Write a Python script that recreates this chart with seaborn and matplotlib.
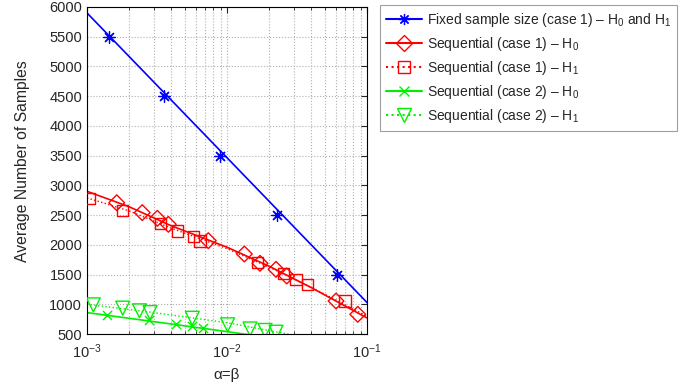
import numpy as np
import pandas as pd
import matplotlib
matplotlib.use("Agg")
import matplotlib.pyplot as plt
from matplotlib.lines import Line2D
import seaborn as sns

# ---- data ----
fixed_line_x = [1e-3, 1e-1]
fixed_line_y = [5900, 1030]
fixed_pts_x = [1.44e-3, 3.55e-3, 8.9e-3, 0.0228, 0.061]
fixed_pts_y = [5500, 4500, 3500, 2500, 1500]

seq1_h0_line_x = [1e-3, 2e-3, 4e-3, 1e-2, 2e-2, 4e-2, 1e-1]
seq1_h0_line_y = [2900, 2640, 2320, 1960, 1640, 1280, 770]
seq1_h0_pts_x = [1.63e-3, 2.48e-3, 3.18e-3, 3.81e-3, 7.35e-3, 0.0133, 0.0172, 0.0224, 0.0267, 0.0601, 0.0859]
seq1_h0_pts_y = [2708, 2541, 2446, 2345, 2070, 1846, 1689, 1588, 1476, 1055, 831]

seq1_h1_line_x = [1e-3, 2e-3, 4e-3, 1e-2, 2e-2, 4e-2, 1e-1]
seq1_h1_line_y = [2790, 2570, 2280, 1935, 1625, 1285, 800]
seq1_h1_pts_x = [1.04e-3, 1.8e-3, 3.36e-3, 4.42e-3, 5.74e-3, 6.41e-3, 0.0166, 0.0255, 0.0311, 0.0375, 0.0697]
seq1_h1_pts_y = [2782, 2574, 2362, 2232, 2137, 2064, 1699, 1521, 1420, 1336, 1055]

seq2_h0_line_x = [1e-3, 3e-3, 1e-2, 2e-2]
seq2_h0_line_y = [860, 708, 540, 440]
seq2_h0_pts_x = [1.38e-3, 2.79e-3, 4.31e-3, 5.6e-3, 6.7e-3]
seq2_h0_pts_y = [820, 735, 668, 635, 607]

seq2_h1_line_x = [1e-3, 3e-3, 1e-2, 3e-2]
seq2_h1_line_y = [1000, 860, 690, 480]
seq2_h1_pts_x = [1.11e-3, 1.8e-3, 2.37e-3, 2.82e-3, 5.65e-3, 0.0101, 0.0146, 0.0187, 0.0224]
seq2_h1_pts_y = [990, 935, 890, 860, 765, 655, 585, 560, 530]

labels = [
    "Fixed sample size (case 1) – $\\mathregular{H_0}$ and $\\mathregular{H_1}$",
    "Sequential (case 1) – $\\mathregular{H_0}$",
    "Sequential (case 1) – $\\mathregular{H_1}$",
    "Sequential (case 2) – $\\mathregular{H_0}$",
    "Sequential (case 2) – $\\mathregular{H_1}$",
]

sns.set_style("white")
plt.rcParams['font.family'] = ['Liberation Sans', 'DejaVu Sans']
plt.rcParams['mathtext.fontset'] = 'custom'
plt.rcParams['mathtext.rm'] = 'Liberation Sans'

BLUE = "#0000ff"
RED = "#ff0000"
GREEN = "#00ee00"

fig = plt.figure(figsize=(6.9, 3.9), dpi=100)
ax = fig.add_axes([87/690, 1-334/390, 280/690, 327/390])
ax.set_xscale("log")

def line(xs, ys, color, ls):
    sns.lineplot(x=xs, y=ys, ax=ax, color=color, linestyle=ls, linewidth=1.2 if ls == '-' else 1.0,
                 sort=True, estimator=None, legend=False)

def pts(xs, ys, color, marker, ms, lw=1.0):
    sns.scatterplot(x=xs, y=ys, ax=ax, marker=marker, s=ms**2, facecolor='none',
                    edgecolor=color, linewidth=lw, legend=False, zorder=5)

ast = (8, 2, 0)
line(fixed_line_x, fixed_line_y, BLUE, '-')
sns.scatterplot(x=fixed_pts_x, y=fixed_pts_y, ax=ax, marker=ast, s=8.5**2, color=BLUE,
                edgecolor=BLUE, linewidth=0.9, legend=False, zorder=5)

line(seq1_h0_line_x, seq1_h0_line_y, RED, '-')
pts(seq1_h0_pts_x, seq1_h0_pts_y, RED, 'D', 8)
line(seq1_h1_line_x, seq1_h1_line_y, RED, ':')
pts(seq1_h1_pts_x, seq1_h1_pts_y, RED, 's', 8)

line(seq2_h0_line_x, seq2_h0_line_y, GREEN, '-')
sns.scatterplot(x=seq2_h0_pts_x, y=seq2_h0_pts_y, ax=ax, marker='x', s=6.5**2, color=GREEN,
                linewidth=1.0, legend=False, zorder=5)
line(seq2_h1_line_x, seq2_h1_line_y, GREEN, ':')
pts(seq2_h1_pts_x, seq2_h1_pts_y, GREEN, 'v', 10)

ax.set_xlim(1e-3, 1e-1)
ax.set_ylim(500, 6000)
ax.set_yticks(np.arange(500, 6001, 500))
ax.grid(True, which='major', axis='both', linestyle=':', color='#b0b0b0', linewidth=0.8)
ax.grid(True, which='minor', axis='x', linestyle=':', color='#b0b0b0', linewidth=0.8)
ax.tick_params(which='both', direction='in', top=True, right=True, labelsize=10.5)
ax.tick_params(which='major', length=4)
ax.tick_params(which='minor', length=2, bottom=True, top=True)
ax.tick_params(axis='x', which='both', pad=6)
for s in ax.spines.values():
    s.set_color('black')
    s.set_linewidth(0.8)
ax.set_xlabel("α=β", fontsize=11)
ax.xaxis.set_label_coords(0.5, -0.105)
ax.set_ylabel("Average Number of Samples", fontsize=11.3)
ax.yaxis.set_label_coords(-0.205, 0.53)

handles = [
    Line2D([], [], color=BLUE, ls='-', marker=ast, ms=8, mec=BLUE, mew=0.9),
    Line2D([], [], color=RED, ls='-', marker='D', ms=8, mfc='none', mec=RED),
    Line2D([], [], color=RED, ls=':', marker='s', ms=8, mfc='none', mec=RED),
    Line2D([], [], color=GREEN, ls='-', marker='x', ms=6.5, mec=GREEN),
    Line2D([], [], color=GREEN, ls=':', marker='v', ms=10, mfc='none', mec=GREEN),
]
leg = fig.legend(handles, labels, loc='upper left', bbox_to_anchor=(380/690, 1-5/390),
                 borderaxespad=0, frameon=True, fancybox=False, edgecolor='#888888', fontsize=10,
                 handlelength=2.6, handletextpad=0.3, labelspacing=0.42, borderpad=0.45)
leg.get_frame().set_linewidth(0.8)

fig.savefig("out.png", dpi=100)
